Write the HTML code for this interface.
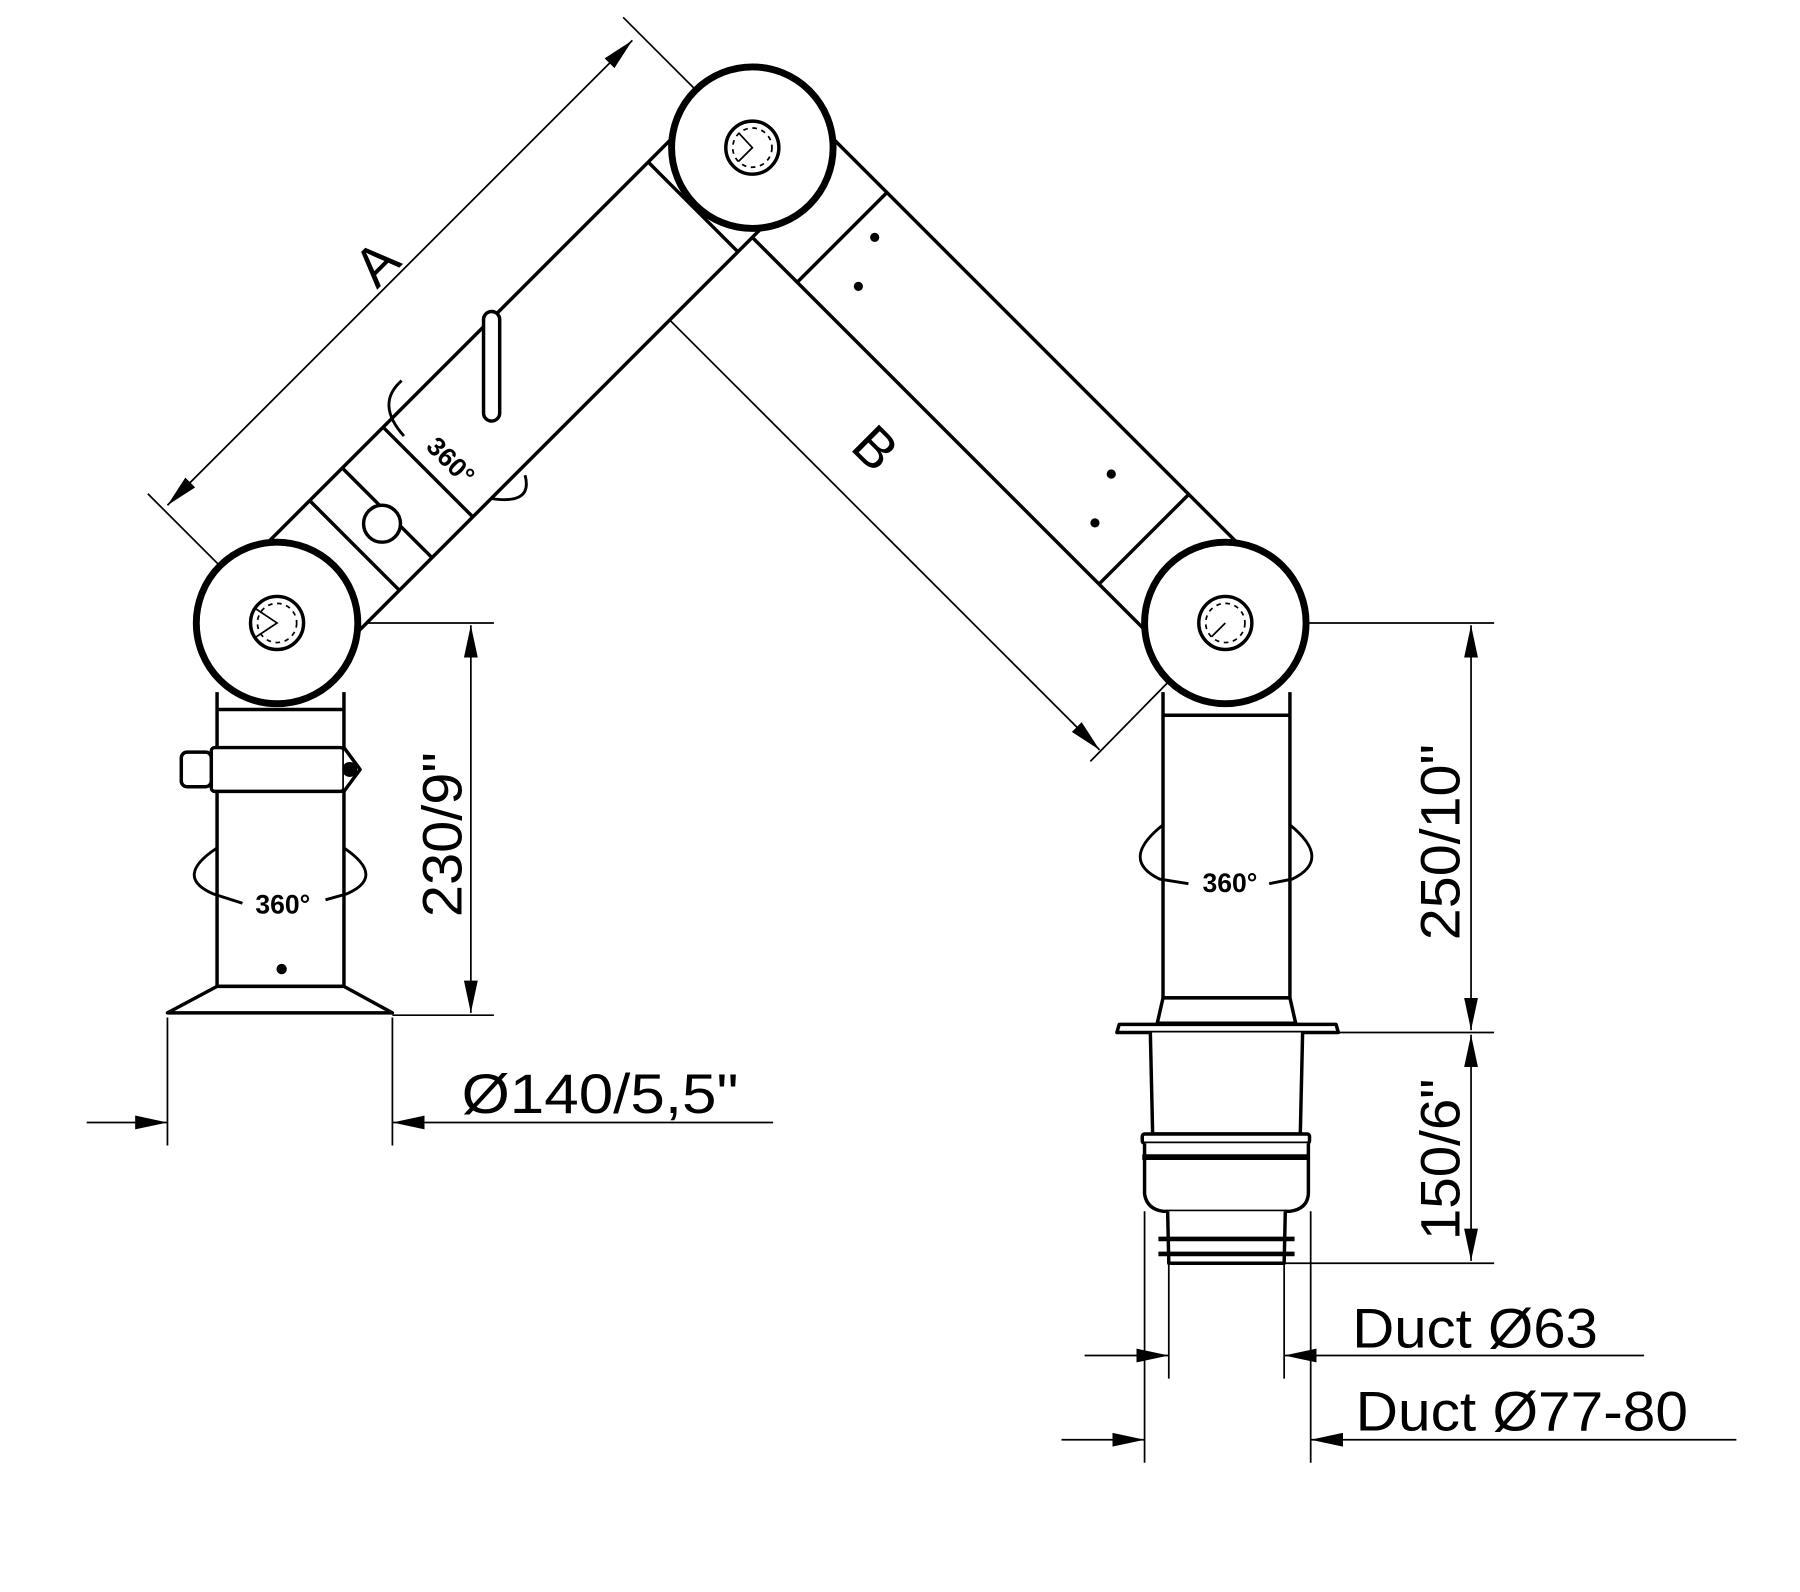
<!DOCTYPE html>
<html><head><meta charset="utf-8"><style>
html,body{margin:0;padding:0;background:#fff;}
svg{display:block;}
text{font-family:"Liberation Sans",sans-serif;fill:#000;}
</style></head><body>
<svg width="1800" height="1592" viewBox="0 0 1560 1380" xmlns="http://www.w3.org/2000/svg">
<defs>
<marker id="ar" viewBox="0 0 28 12" refX="28" refY="6" markerWidth="28" markerHeight="12" markerUnits="userSpaceOnUse" orient="auto-start-reverse"><path d="M0,0 L28,6 L0,12 Z" fill="#000"/></marker>
</defs>
<rect width="1560" height="1380" fill="#fff"/>
<g fill="none" stroke="#000" stroke-width="1.5">
<line x1="128" y1="428" x2="232" y2="532"/>
<line x1="540" y1="15" x2="648" y2="123"/>
<line x1="145" y1="438" x2="548" y2="35" marker-start="url(#ar)" marker-end="url(#ar)"/>
<line x1="540" y1="242" x2="645" y2="137"/>
<line x1="945" y1="660" x2="1055" y2="548"/>
<line x1="550" y1="247" x2="953" y2="650" marker-start="url(#ar)" marker-end="url(#ar)"/>
<line x1="240" y1="540" x2="428" y2="540"/>
<line x1="340" y1="880" x2="428" y2="880"/>
<line x1="408" y1="542" x2="408" y2="878" marker-start="url(#ar)" marker-end="url(#ar)"/>
<line x1="145" y1="882" x2="145" y2="993"/>
<line x1="340" y1="882" x2="340" y2="993"/>
<line x1="75" y1="973" x2="145" y2="973" marker-end="url(#ar)"/>
<line x1="670" y1="973" x2="340" y2="973" marker-end="url(#ar)"/>
<line x1="1062" y1="540" x2="1295" y2="540"/>
<line x1="1160" y1="895" x2="1295" y2="895"/>
<line x1="1113" y1="1095" x2="1295" y2="1095"/>
<line x1="1275" y1="542" x2="1275" y2="893" marker-start="url(#ar)" marker-end="url(#ar)"/>
<line x1="1275" y1="897" x2="1275" y2="1093" marker-start="url(#ar)" marker-end="url(#ar)"/>
<line x1="1013" y1="1095" x2="1013" y2="1195"/>
<line x1="1113" y1="1095" x2="1113" y2="1195"/>
<line x1="940" y1="1175" x2="1013" y2="1175" marker-end="url(#ar)"/>
<line x1="1425" y1="1175" x2="1113" y2="1175" marker-end="url(#ar)"/>
<line x1="992" y1="1050" x2="992" y2="1268"/>
<line x1="1136" y1="1050" x2="1136" y2="1268"/>
<line x1="920" y1="1248" x2="992" y2="1248" marker-end="url(#ar)"/>
<line x1="1505" y1="1248" x2="1136" y2="1248" marker-end="url(#ar)"/>
</g>

<g fill="#fff" stroke="#000" stroke-width="3" stroke-linejoin="round">
<path d="M188,600 L188,855 L298,855 L298,600"/>
<path d="M188,855 L145,878 L340,878 L298,855 Z"/>
<line x1="188" y1="615" x2="298" y2="615"/>
<rect x="183" y="648" width="115" height="38" rx="3"/>
<path d="M298,648 L312,667 L298,686"/>
<rect x="157" y="652" width="26" height="30" rx="5"/>
<circle cx="303" cy="667" r="5" fill="#000"/>
<circle cx="244" cy="840" r="3" fill="#000"/>
<path d="M1008,600 L1008,865 L1118,865 L1118,600"/>
<line x1="1008" y1="620" x2="1118" y2="620"/>
<path d="M1008,865 L1003,887 L1123,887 L1118,865 Z"/>
<path d="M970,888 L1158,888 L1160,895 L968,895 Z"/>
<path d="M997,895 L999,983 L1127,983 L1129,895"/>
<rect x="990" y="983" width="145" height="8" rx="2"/>
<path d="M992,991 L992,1035 Q994,1048 1008,1050 L1118,1050 Q1133,1048 1134,1035 L1134,991"/>
<line x1="990" y1="1003" x2="1135" y2="1003" stroke-width="5"/>
<path d="M1012,1050 L1013,1095 L1113,1095 L1114,1050"/>
<line x1="1004" y1="1074" x2="1122" y2="1074" stroke-width="4"/>
<line x1="1004" y1="1087" x2="1122" y2="1087" stroke-width="4"/>

<g transform="translate(652,128) rotate(45)">
<rect x="30" y="-55" width="523" height="110"/>
<line x1="110" y1="-55" x2="110" y2="55"/>
<line x1="480" y1="-55" x2="480" y2="55"/>
<circle cx="130" cy="-20" r="2.5" fill="#000"/>
<circle cx="150" cy="20" r="2.5" fill="#000"/>
<circle cx="420" cy="-20" r="2.5" fill="#000"/>
<circle cx="440" cy="20" r="2.5" fill="#000"/>
</g>
<g transform="translate(240,540) rotate(-45)">
<rect x="25" y="-55" width="530" height="110"/>
<line x1="95" y1="-55" x2="95" y2="55"/>
<line x1="135" y1="-55" x2="135" y2="55"/>
<line x1="185" y1="-55" x2="185" y2="55"/>
<line x1="510" y1="-55" x2="510" y2="55"/>
</g>
<rect x="419" y="270" width="14" height="95" rx="7"/>
<circle cx="331" cy="454" r="16"/>

<circle cx="240" cy="540" r="70" stroke-width="6"/>
<circle cx="652" cy="128" r="70" stroke-width="6"/>
<circle cx="1062" cy="540" r="70" stroke-width="6"/>
<circle cx="240" cy="540" r="23"/>
<circle cx="652" cy="128" r="23"/>
<circle cx="1062" cy="540" r="23"/>
</g>
<g fill="none" stroke="#000" stroke-width="1.5">
<circle cx="240" cy="540" r="17" stroke-dasharray="4 4"/>
<circle cx="652" cy="128" r="17" stroke-dasharray="4 4"/>
<circle cx="1062" cy="540" r="17" stroke-dasharray="4 4"/>
<polyline points="222,528 240,540 222,552"/>
<polyline points="640,115 652,128 640,140"/>
<polyline points="1050,552 1062,540"/>
<path d="M188,735 Q150,760 185,775 L210,783" stroke-width="2.5"/>
<path d="M298,735 Q335,760 300,775 L282,780" stroke-width="2.5"/>
<path d="M1008,715 Q970,745 1005,762 L1030,766" stroke-width="2.5"/>
<path d="M1118,715 Q1155,745 1120,762 L1100,766" stroke-width="2.5"/>
<path d="M348,330 Q325,350 350,378" stroke-width="2.5"/>
<path d="M455,412 Q462,438 425,432" stroke-width="2.5"/>
</g>
<text x="245" y="792" font-size="23" font-weight="bold" text-anchor="middle">360°</text>
<text x="1066" y="773" font-size="23" font-weight="bold" text-anchor="middle">360°</text>
<text transform="translate(385,405) rotate(45)" font-size="23" font-weight="bold" text-anchor="middle">360°</text>
<text transform="translate(400,795) rotate(-90)" font-size="48" textLength="143" lengthAdjust="spacingAndGlyphs">230/9"</text>
<text transform="translate(1265,815) rotate(-90)" font-size="48" textLength="170" lengthAdjust="spacingAndGlyphs">250/10"</text>
<text transform="translate(1265,1075) rotate(-90)" font-size="48" textLength="140" lengthAdjust="spacingAndGlyphs">150/6"</text>
<text transform="translate(338,240) rotate(-45)" font-size="48" text-anchor="middle">A</text>
<text transform="translate(747,400) rotate(45)" font-size="48" text-anchor="middle">B</text>
<text x="400" y="965" font-size="48" textLength="240" lengthAdjust="spacingAndGlyphs">Ø140/5,5"</text>
<text x="1172" y="1168" font-size="48" textLength="213" lengthAdjust="spacingAndGlyphs">Duct Ø63</text>
<text x="1175" y="1240" font-size="48" textLength="288" lengthAdjust="spacingAndGlyphs">Duct Ø77-80</text>
</svg>
</body></html>
